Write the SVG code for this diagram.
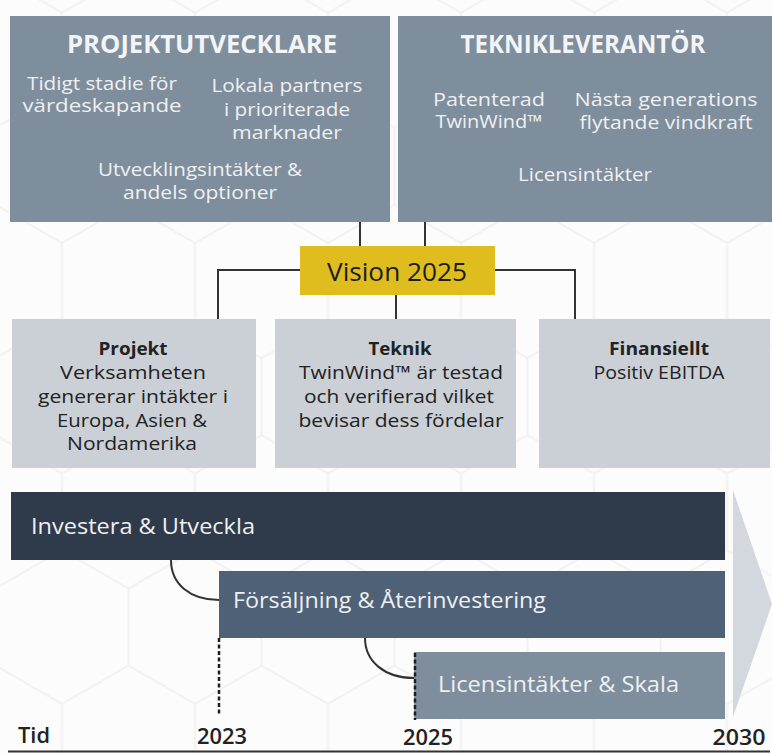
<svg xmlns="http://www.w3.org/2000/svg" width="772" height="753" viewBox="0 0 772 753">
  <defs>
    <!-- faint honeycomb backdrop -->
    <pattern id="hex" patternUnits="userSpaceOnUse" x="-4.5" y="89.4" width="133" height="230.4">
      <path d="M66.5,0 L133,38.4 L133,115.2 L66.5,153.6 L0,115.2 L0,38.4 Z M66.5,153.6 L66.5,230.4" fill="none" stroke="#f1f1f1" stroke-width="2"/>
    </pattern>
    <style>
      text { font-family: "Open Sans", "Liberation Sans", sans-serif; text-anchor: middle; }
      .role { fill: #7f8e9c; }
      .goal { fill: #cbd0d7; }
      .head { font-size: 25px; font-weight: 700; fill: #f3f4f6; }
      .lt { font-size: 18px; fill: #eef0f2; }
      .dk { font-size: 18px; fill: #222; }
      .dkb { font-size: 18px; font-weight: 700; fill: #222; }
      .bar { font-size: 21px; font-weight: 500; fill: #eef0f2; text-anchor: start; }
      .axis { font-size: 21px; font-weight: 600; fill: #222; }
      .link { fill: none; stroke: #333; stroke-width: 2; }
      .dash { fill: none; stroke: #1e1e1e; stroke-width: 2.5; stroke-dasharray: 4 2.5; }
    </style>
  </defs>

  <rect width="772" height="753" fill="#fcfcfc"/>
  <rect width="772" height="753" fill="url(#hex)"/>

  <!-- connectors -->
  <g id="connectors">
    <path class="link" d="M360,222 V247"/>
    <path class="link" d="M425,222 V247"/>
    <path class="link" d="M300,270 H218 V319"/>
    <path class="link" d="M495,270 H575 V319"/>
    <path class="link" d="M396,295 V319"/>
    <path class="link" d="M171,560 C171,584 190,600 219,600"/>
    <path class="link" d="M365,638 C365,661 384,678 414,678"/>
  </g>

  <!-- developer role -->
  <g id="projektutvecklare">
    <rect class="role" x="10" y="16" width="380" height="206"/>
    <text class="head" x="202" y="53" textLength="270" lengthAdjust="spacingAndGlyphs">PROJEKTUTVECKLARE</text>
    <text class="lt" x="102" y="90" textLength="150" lengthAdjust="spacingAndGlyphs">Tidigt stadie för</text>
    <text class="lt" x="102" y="112" textLength="159" lengthAdjust="spacingAndGlyphs">värdeskapande</text>
    <text class="lt" x="287" y="92" textLength="151" lengthAdjust="spacingAndGlyphs">Lokala partners</text>
    <text class="lt" x="287" y="116" textLength="126" lengthAdjust="spacingAndGlyphs">i prioriterade</text>
    <text class="lt" x="287" y="139" textLength="110" lengthAdjust="spacingAndGlyphs">marknader</text>
    <text class="lt" x="200" y="176" textLength="204" lengthAdjust="spacingAndGlyphs">Utvecklingsintäkter &amp;</text>
    <text class="lt" x="200" y="199" textLength="154" lengthAdjust="spacingAndGlyphs">andels optioner</text>
  </g>

  <!-- technology supplier role -->
  <g id="teknikleverantor">
    <rect class="role" x="398" y="16" width="374" height="206"/>
    <text class="head" x="583" y="53" textLength="245" lengthAdjust="spacingAndGlyphs">TEKNIKLEVERANTÖR</text>
    <text class="lt" x="489" y="106" textLength="112" lengthAdjust="spacingAndGlyphs">Patenterad</text>
    <text class="lt" x="489" y="128" textLength="107" lengthAdjust="spacingAndGlyphs">TwinWind™</text>
    <text class="lt" x="666" y="106" textLength="183" lengthAdjust="spacingAndGlyphs">Nästa generations</text>
    <text class="lt" x="666" y="129" textLength="173" lengthAdjust="spacingAndGlyphs">flytande vindkraft</text>
    <text class="lt" x="585" y="181" textLength="134" lengthAdjust="spacingAndGlyphs">Licensintäkter</text>
  </g>

  <!-- central goal -->
  <g id="vision">
    <rect x="300" y="246" width="195" height="49" fill="#dfbd1f"/>
    <text x="397" y="281" font-size="26" font-weight="500" fill="#1c1c1c" textLength="140" lengthAdjust="spacingAndGlyphs">Vision 2025</text>
  </g>

  <!-- goal areas -->
  <g id="projekt">
    <rect class="goal" x="12" y="319" width="244" height="149"/>
    <text class="dkb" x="133" y="355" textLength="69" lengthAdjust="spacingAndGlyphs">Projekt</text>
    <text class="dk" x="133" y="379" textLength="146" lengthAdjust="spacingAndGlyphs">Verksamheten</text>
    <text class="dk" x="133" y="403" textLength="190" lengthAdjust="spacingAndGlyphs">genererar intäkter i</text>
    <text class="dk" x="132" y="427" textLength="150" lengthAdjust="spacingAndGlyphs">Europa, Asien &amp;</text>
    <text class="dk" x="132" y="450" textLength="130" lengthAdjust="spacingAndGlyphs">Nordamerika</text>
  </g>

  <g id="teknik">
    <rect class="goal" x="275" y="319" width="241" height="149"/>
    <text class="dkb" x="400" y="355" textLength="63" lengthAdjust="spacingAndGlyphs">Teknik</text>
    <text class="dk" x="401" y="379" textLength="204" lengthAdjust="spacingAndGlyphs">TwinWind™ är testad</text>
    <text class="dk" x="399" y="403" textLength="190" lengthAdjust="spacingAndGlyphs">och verifierad vilket</text>
    <text class="dk" x="401" y="427" textLength="205" lengthAdjust="spacingAndGlyphs">bevisar dess fördelar</text>
  </g>

  <g id="finansiellt">
    <rect class="goal" x="539" y="319" width="231" height="149"/>
    <text class="dkb" x="659" y="355" textLength="100" lengthAdjust="spacingAndGlyphs">Finansiellt</text>
    <text class="dk" x="659" y="379" textLength="131" lengthAdjust="spacingAndGlyphs">Positiv EBITDA</text>
  </g>

  <!-- timeline -->
  <g id="tidpil">
    <polygon points="733,490 772,604 733,717" fill="#d3d8df"/>
  </g>

  <g id="investera">
    <rect x="11" y="492" width="714" height="68" fill="#2f3b4a"/>
    <text class="bar" x="31" y="534" textLength="224" lengthAdjust="spacingAndGlyphs">Investera &amp; Utveckla</text>
  </g>

  <g id="forsaljning">
    <rect x="219" y="571" width="506" height="67" fill="#4e6176"/>
    <text class="bar" x="233" y="608" textLength="313" lengthAdjust="spacingAndGlyphs">Försäljning &amp; Återinvestering</text>
  </g>

  <g id="licens">
    <rect x="414" y="652" width="311" height="67" fill="#7f8e9c"/>
    <text class="bar" x="438" y="692" textLength="241" lengthAdjust="spacingAndGlyphs">Licensintäkter &amp; Skala</text>
  </g>

  <g id="milstolpar">
    <path class="dash" d="M219,638 V716"/>
    <path class="dash" d="M415,653 V720"/>
  </g>

  <g id="tidsaxel">
    <line x1="8" y1="751.5" x2="770" y2="751.5" stroke="#333" stroke-width="2"/>
    <text class="axis" x="34" y="743" textLength="32" lengthAdjust="spacingAndGlyphs">Tid</text>
    <text class="axis" x="222" y="744" textLength="50" lengthAdjust="spacingAndGlyphs">2023</text>
    <text class="axis" x="428" y="745" textLength="50" lengthAdjust="spacingAndGlyphs">2025</text>
    <text class="axis" x="739" y="745" textLength="53" lengthAdjust="spacingAndGlyphs">2030</text>
  </g>
</svg>
